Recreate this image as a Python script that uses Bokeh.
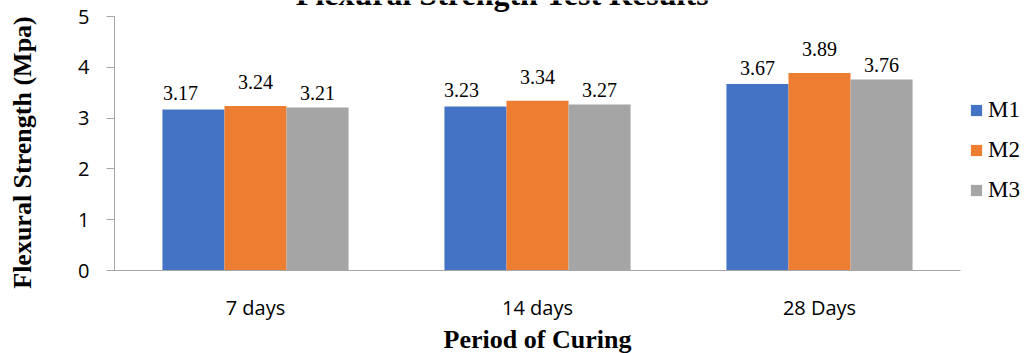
import math

import numpy as np
from bokeh.plotting import figure
from bokeh.models import (ColumnDataSource, LabelSet, Label, Legend,
                          LegendItem, FixedTicker)
from bokeh.embed import file_html
from bokeh.resources import INLINE

# Flexural strength (MPa) by curing period for three mixes
periods = ["7 days", "14 days", "28 Days"]
m1 = [3.17, 3.23, 3.67]
m2 = [3.24, 3.34, 3.89]
m3 = [3.21, 3.27, 3.76]
series_names = ["M1", "M2", "M3"]
y_ticks = [0, 1, 2, 3, 4, 5]

colors = ["#4472C4", "#ED7D31", "#A5A5A5"]
offsets = [-0.22, 0.0, 0.22]
label_lift = [9, 17, 7]
# horizontal nudge (px) of each value label, per series
label_nudge = [[-13, -14, 0], [0, 0, 0], [0, 0, 0]]

W, H = 1029, 353
# Plot area: categories 282 px wide starting 114 px from the left,
# value 0 sits 83 px above the bottom, 50.8 px per MPa.
PX_X, LEFT = 282.0, 114.0
PX_Y, BOTTOM = 50.8, 83.0

centers = np.arange(len(periods)) + 0.5
data = dict(period=periods)
for name, vals, off, nudge in zip(series_names, [m1, m2, m3], offsets,
                                  label_nudge):
    data[name] = vals
    data[name + "_x"] = centers + off
    data[name + "_lx"] = centers + off + np.array(nudge) / PX_X
    data[name + "_txt"] = [f"{v:.2f}" for v in vals]
source = ColumnDataSource(data=data)

AXIS_GRAY = "#a6a6a6"
SERIF = "Liberation Serif"
SANS = "Open Sans"

p = figure(
    x_range=(-LEFT / PX_X, (W - LEFT) / PX_X),
    y_range=(-BOTTOM / PX_Y, (H - BOTTOM) / PX_Y),
    width=W, height=H,
    output_backend="svg", toolbar_location=None,
    min_border=0,
)
p.outline_line_color = None
p.xgrid.grid_line_color = None
p.ygrid.grid_line_color = None

items = []
for name, col, lift in zip(series_names, colors, label_lift):
    r = p.vbar(x=name + "_x", top=name, width=0.22, source=source,
               fill_color=col, line_color=None)
    items.append(LegendItem(label=name, renderers=[r]))
    p.add_layout(LabelSet(
        x=name + "_lx", y=name, text=name + "_txt", source=source,
        y_offset=lift, text_align="center", text_baseline="alphabetic",
        text_font=SERIF, text_font_size="20px", text_color="#000000"))

# Value axis
yax = p.yaxis[0]
yax.fixed_location = 0
yax.bounds = (0, 5)
yax.ticker = FixedTicker(ticks=y_ticks)
yax.axis_line_color = AXIS_GRAY
yax.major_tick_line_color = AXIS_GRAY
yax.major_tick_out = 8
yax.major_tick_in = 0
yax.minor_tick_line_color = None
yax.major_label_standoff = 17
yax.major_label_text_font = SANS
yax.major_label_text_font_size = "20px"
yax.major_label_text_color = "#000000"

# Category axis
xax = p.xaxis[0]
xax.fixed_location = 0
xax.bounds = (0, len(periods))
xax.ticker = FixedTicker(ticks=list(centers))
xax.major_label_overrides = {float(c): lab for c, lab in zip(centers, periods)}
xax.axis_line_color = AXIS_GRAY
xax.major_tick_line_color = None
xax.major_tick_out = 0
xax.major_tick_in = 0
xax.minor_tick_line_color = None
xax.major_label_standoff = 23
xax.major_label_text_font = SANS
xax.major_label_text_font_size = "20px"
xax.major_label_text_color = "#000000"

# Titles (pixel positions from the bottom-left corner)
title_style = dict(x_units="screen", y_units="screen", text_font=SERIF,
                   text_font_style="bold", text_color="#000000",
                   text_align="center")
p.add_layout(Label(x=502, y=H + 7, text="Flexural Strength Test Results",
                   text_baseline="alphabetic", text_font_size="32px",
                   **title_style))
p.add_layout(Label(x=537, y=H - 339, text="Period of Curing",
                   text_baseline="alphabetic", text_font_size="26px",
                   **title_style))
p.add_layout(Label(x=22, y=H - 152, text="Flexural Strength (Mpa)",
                   angle=math.pi / 2, text_baseline="middle",
                   text_font_size="26px", **title_style))

legend = Legend(
    items=items, location=(969, H - 203), orientation="vertical",
    glyph_width=14, glyph_height=14, label_standoff=5,
    label_height=26, spacing=14, padding=0, margin=0,
    label_text_font=SERIF, label_text_font_size="23px",
    label_text_color="#000000",
    border_line_alpha=0, background_fill_alpha=0,
)
p.add_layout(legend)

open("out.html", "w").write(file_html(p, INLINE))
